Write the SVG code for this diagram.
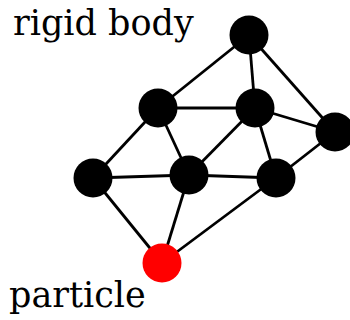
<svg xmlns="http://www.w3.org/2000/svg" width="350" height="320" viewBox="0 0 350 320">
<style>
.e{stroke:#000;stroke-width:2.8;fill:none}
.n{fill:#000}
.p{fill:#f00}
.t{font-family:"DejaVu Serif",serif;font-size:35px;fill:#000}
</style>
<rect width="350" height="320" fill="#fff"/>
<g id="connectors">
<line class="e" x1="249" y1="35" x2="158" y2="108"/>
<line class="e" x1="249" y1="35" x2="255" y2="108"/>
<line class="e" x1="249" y1="35" x2="335" y2="132"/>
<line class="e" x1="158" y1="108" x2="255" y2="108"/>
<line class="e" x1="158" y1="108" x2="93" y2="178"/>
<line class="e" x1="158" y1="108" x2="189" y2="175"/>
<line class="e" x1="255" y1="108" x2="189" y2="175"/>
<line class="e" x1="255" y1="108" x2="276" y2="178"/>
<line class="e" x1="255" y1="108" x2="335" y2="132"/>
<line class="e" x1="335" y1="132" x2="276" y2="178"/>
<line class="e" x1="93" y1="178" x2="189" y2="175"/>
<line class="e" x1="189" y1="175" x2="276" y2="178"/>
<line class="e" x1="93" y1="178" x2="162" y2="263"/>
<line class="e" x1="189" y1="175" x2="162" y2="263"/>
<line class="e" x1="276" y1="178" x2="162" y2="263"/>
</g>
<g id="n1"><circle class="n" cx="249" cy="35" r="19.5"/></g>
<g id="n2"><circle class="n" cx="158" cy="108" r="19.5"/></g>
<g id="n3"><circle class="n" cx="255" cy="108" r="19.5"/></g>
<g id="n4"><circle class="n" cx="335" cy="132" r="19.5"/></g>
<g id="n5"><circle class="n" cx="93" cy="178" r="19.5"/></g>
<g id="n6"><circle class="n" cx="189" cy="175" r="19.5"/></g>
<g id="n7"><circle class="n" cx="276" cy="178" r="19.5"/></g>
<g id="particle"><circle class="p" cx="162" cy="263" r="19.5"/></g>
<text class="t" x="13" y="35">rigid body</text>
<text class="t" x="9" y="307">particle</text>
</svg>
